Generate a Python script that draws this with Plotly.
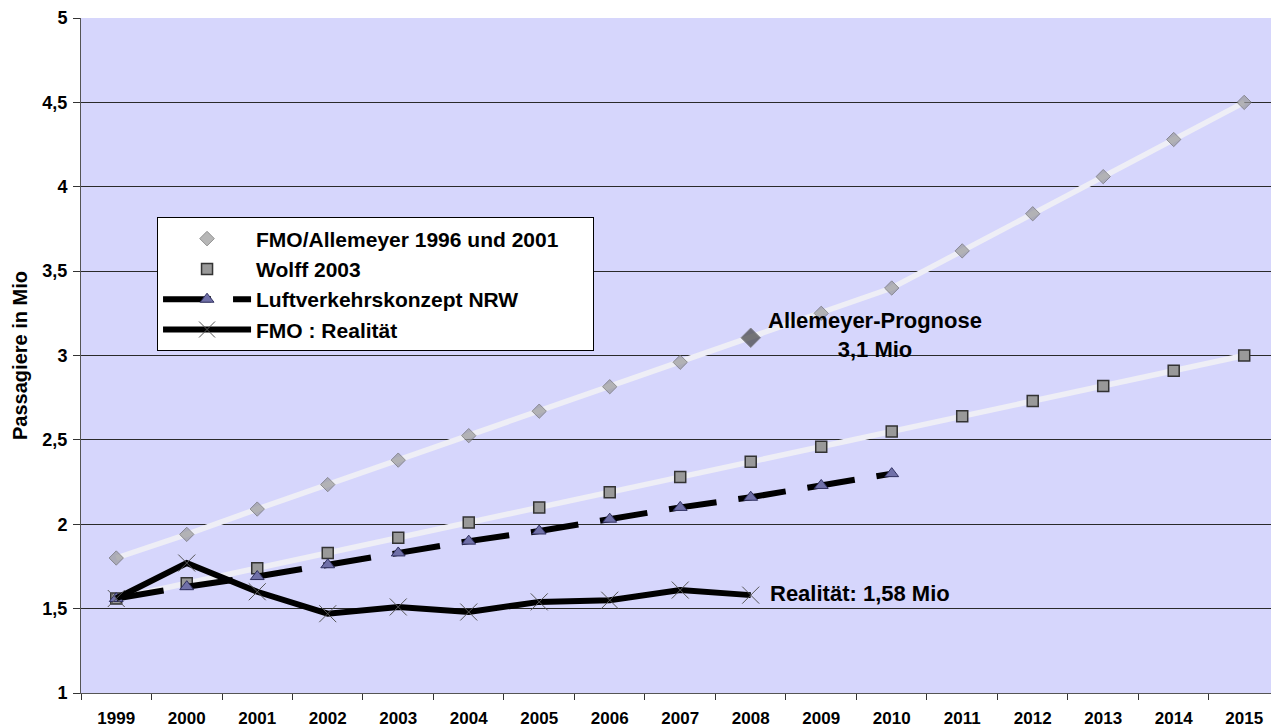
import plotly.graph_objects as go

years = [str(y) for y in range(1999, 2016)]

allemeyer = [1.80, 1.94, 2.09, 2.235, 2.38, 2.525, 2.67, 2.815, 2.96, 3.105,
             3.25, 3.40, 3.62, 3.84, 4.06, 4.28, 4.50]
wolff = [1.56, 1.65, 1.74, 1.83, 1.92, 2.01, 2.10, 2.19, 2.28, 2.37,
         2.46, 2.55, 2.64, 2.73, 2.82, 2.91, 3.00]
nrw_years = years[:12]
nrw = [1.56, 1.63, 1.69, 1.76, 1.83, 1.90, 1.96, 2.03, 2.10, 2.16, 2.23, 2.30]
real_years = years[:10]
realitaet = [1.56, 1.77, 1.60, 1.47, 1.51, 1.48, 1.54, 1.55, 1.61, 1.58]

highlight_year = "2008"

FONT = "Liberation Sans, Arial, sans-serif"
BG = "#d6d6fc"
LINE_LIGHT = "#eeeef6"
NB = "\u00a0"

fig = go.Figure()

# light patterned lines (no legend)
fig.add_trace(go.Scatter(x=years, y=allemeyer, mode="lines",
                         line=dict(color=LINE_LIGHT, width=5.5),
                         showlegend=False, hoverinfo="skip"))
fig.add_trace(go.Scatter(x=years, y=wolff, mode="lines",
                         line=dict(color=LINE_LIGHT, width=5.5),
                         showlegend=False, hoverinfo="skip"))

# markers
a_sizes = [15 if y == highlight_year else 11 for y in years]
a_colors = ["#404040" if y == highlight_year else "#9a9a9a" for y in years]
fig.add_trace(go.Scatter(x=years, y=allemeyer, mode="markers",
                         name="FMO/Allemeyer 1996 und 2001" + NB * 5,
                         marker=dict(symbol="diamond", size=a_sizes, color=a_colors,
                                     line=dict(color="#666666", width=1))))
fig.add_trace(go.Scatter(x=years, y=wolff, mode="markers",
                         name="Wolff 2003",
                         marker=dict(symbol="square", size=11, color="#999999",
                                     line=dict(color="#333333", width=1.5))))
fig.add_trace(go.Scatter(x=nrw_years, y=nrw, mode="lines+markers",
                         name="Luftverkehrskonzept NRW",
                         line=dict(color="black", width=6, dash="48px,22px"),
                         marker=dict(symbol="triangle-up", size=12, color="#7070a8",
                                     line=dict(color="#303060", width=1))))
fig.add_trace(go.Scatter(x=real_years, y=realitaet, mode="lines+markers",
                         name="FMO : Realität",
                         line=dict(color="black", width=6),
                         marker=dict(symbol="x-thin", size=17,
                                     line=dict(color="#555555", width=1))))

fig.add_annotation(x=10.76, y=3.12, xref="x", yref="y",
                   text="<b>Allemeyer-Prognose<br>3,1 Mio</b>", showarrow=False,
                   align="center", font=dict(family=FONT, size=22, color="black"))
fig.add_annotation(x=9.245, y=1.59, xref="x", yref="y", xanchor="left",
                   text="<b>Realität: 1,58 Mio</b>", showarrow=False,
                   font=dict(family=FONT, size=22, color="black"))

fig.update_layout(
    width=1271, height=728,
    margin=dict(l=81, r=0, t=17.5, b=35.3, autoexpand=False),
    paper_bgcolor="white", plot_bgcolor=BG,
    separators=",.",
    font=dict(family=FONT, color="black"),
    legend=dict(x=0.0639, y=0.7045, xanchor="left", yanchor="top",
                bgcolor="white", bordercolor="black", borderwidth=1,
                font=dict(family=FONT, size=21, color="black", weight="bold"),
                itemwidth=88, traceorder="normal"),
    xaxis=dict(type="category", range=[-0.5, 16.38], tickson="boundaries",
               ticks="outside", ticklen=6, tickcolor="#333333",
               showline=True, linecolor="#555555", linewidth=1,
               showgrid=False, ticklabelstandoff=10, automargin=False,
               tickfont=dict(family=FONT, size=17, weight="bold")),
    yaxis=dict(range=[1, 5], dtick=0.5, tick0=1, ticks="outside", ticklen=7,
               tickcolor="#333333", showline=True, linecolor="#555555", linewidth=1,
               showgrid=True, gridcolor="#2a2a2a", gridwidth=1, zeroline=False,
               ticklabelstandoff=2, automargin=False,
               tickfont=dict(family=FONT, size=18, weight="bold"),
               title=dict(text="Passagiere in Mio", standoff=9,
                          font=dict(family=FONT, size=20, weight="bold"))),
)

fig.write_html("out.html",
               config={"displayModeBar": False},
               post_script="document.body.style.margin='0px';"
                           "document.body.style.overflow='hidden';")
